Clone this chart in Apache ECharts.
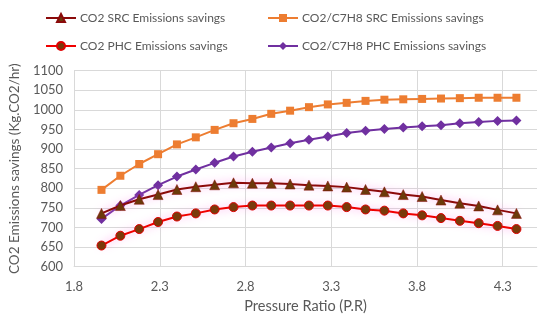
<!DOCTYPE html>
<html>
<head>
<meta charset="utf-8">
<script src="https://cdn.jsdelivr.net/npm/echarts@6/dist/echarts.min.js"></script>
<style>html,body{margin:0;padding:0;background:#fff}#c{width:550px;height:324px}</style>
</head>
<body>
<div id="c"></div>
<script>
var pressureRatio = [1.96, 2.07, 2.18, 2.29, 2.40, 2.51, 2.62, 2.73, 2.84, 2.95, 3.06, 3.17, 3.28, 3.39, 3.50, 3.61, 3.72, 3.83, 3.94, 4.05, 4.16, 4.27, 4.38];
var co2SRC = [736, 756, 772, 784, 797, 804, 809, 814, 813, 813, 811, 808, 806, 803, 797, 791, 784, 779, 770, 762, 755, 745, 736];
var co2C7H8SRC = [796, 832, 862, 887, 912, 930, 949, 966, 977, 990, 998, 1007, 1014, 1018, 1023, 1026, 1027, 1028, 1029, 1030, 1031, 1031, 1031];
var co2PHC = [654, 679, 696, 714, 728, 736, 746, 752, 756, 756, 756, 756, 756, 752, 746, 743, 736, 731, 724, 717, 711, 704, 696];
var co2C7H8PHC = [722, 756, 783, 808, 830, 848, 865, 881, 893, 904, 915, 924, 932, 941, 947, 951, 955, 958, 961, 966, 969, 972, 973];
var seriesNames = ['CO2 SRC Emissions savings', 'CO2/C7H8 SRC Emissions savings', 'CO2 PHC Emissions savings', 'CO2/C7H8 PHC Emissions savings'];

function pairs(ys) { return pressureRatio.map(function (x, i) { return [x, ys[i]]; }); }

var font = 'Lato, "Open Sans", sans-serif';
var txt = '#595959';
function legend(name, left, top) {
  return {
    data: [name], left: left, top: top, itemWidth: 30, itemHeight: 10, itemGap: 4,
    textStyle: { fontFamily: font, fontSize: 12, color: txt, padding: [0, 0, 0, -1] }
  };
}

var chart = echarts.init(document.getElementById('c'));
chart.setOption({
  animation: false,
  backgroundColor: '#fff',
  legend: [
    legend(seriesNames[0], 40, 7),
    legend(seriesNames[1], 262, 7),
    legend(seriesNames[2], 40, 35),
    legend(seriesNames[3], 262, 35)
  ],
  grid: { left: 73.5, right: 13, top: 70.7, bottom: 57.3 },
  xAxis: {
    type: 'value', min: 1.8, max: 4.5, interval: 0.5,
    name: 'Pressure Ratio (P.R)', nameLocation: 'middle', nameGap: 30,
    nameTextStyle: { fontFamily: font, fontSize: 14.5, color: txt },
    axisLine: { show: true, lineStyle: { color: '#D9D9D9', width: 1 } },
    axisTick: { show: false },
    axisLabel: { fontFamily: font, fontSize: 13, color: txt, margin: 14, showMaxLabel: false,
      formatter: function (v) { return (Math.round(v * 10) / 10).toFixed(1); } },
    splitLine: { show: true, showMaxLine: false, lineStyle: { color: '#D9D9D9', width: 1 } }
  },
  yAxis: {
    type: 'value', min: 600, max: 1100, interval: 50,
    name: 'CO2 Emissions savings (Kg.CO2/hr)', nameLocation: 'middle', nameGap: 52,
    nameTextStyle: { fontFamily: font, fontSize: 13.5, color: txt },
    axisLine: { show: false },
    axisTick: { show: false },
    axisLabel: { fontFamily: font, fontSize: 13, color: txt, margin: 11,
      formatter: function (v) { return String(Math.round(v)); } },
    splitLine: { show: true, lineStyle: { color: '#D9D9D9', width: 1 } }
  },
  series: [
    {
      name: seriesNames[0], type: 'line', data: pairs(co2SRC), z: 3,
      symbol: 'triangle', symbolSize: 10,
      lineStyle: { color: '#8B0A0A', width: 2, shadowColor: 'rgba(255,120,230,0.8)', shadowBlur: 8 },
      itemStyle: { color: '#6B3A0A', borderColor: '#8B0A0A', borderWidth: 0.5 }
    },
    {
      name: seriesNames[1], type: 'line', data: pairs(co2C7H8SRC), z: 2,
      symbol: 'rect', symbolSize: 8,
      lineStyle: { color: '#ED7D31', width: 2 },
      itemStyle: { color: '#ED7D31' }
    },
    {
      name: seriesNames[2], type: 'line', data: pairs(co2PHC), z: 3,
      symbol: 'circle', symbolSize: 9,
      lineStyle: { color: '#F00000', width: 2, shadowColor: 'rgba(255,120,230,0.8)', shadowBlur: 8 },
      itemStyle: { color: '#7A3A0A', borderColor: '#E00000', borderWidth: 1 }
    },
    {
      name: seriesNames[3], type: 'line', data: pairs(co2C7H8PHC), z: 2,
      symbol: 'diamond', symbolSize: 10,
      lineStyle: { color: '#7030A0', width: 2 },
      itemStyle: { color: '#7030A0' }
    }
  ]
});
</script>
</body>
</html>
